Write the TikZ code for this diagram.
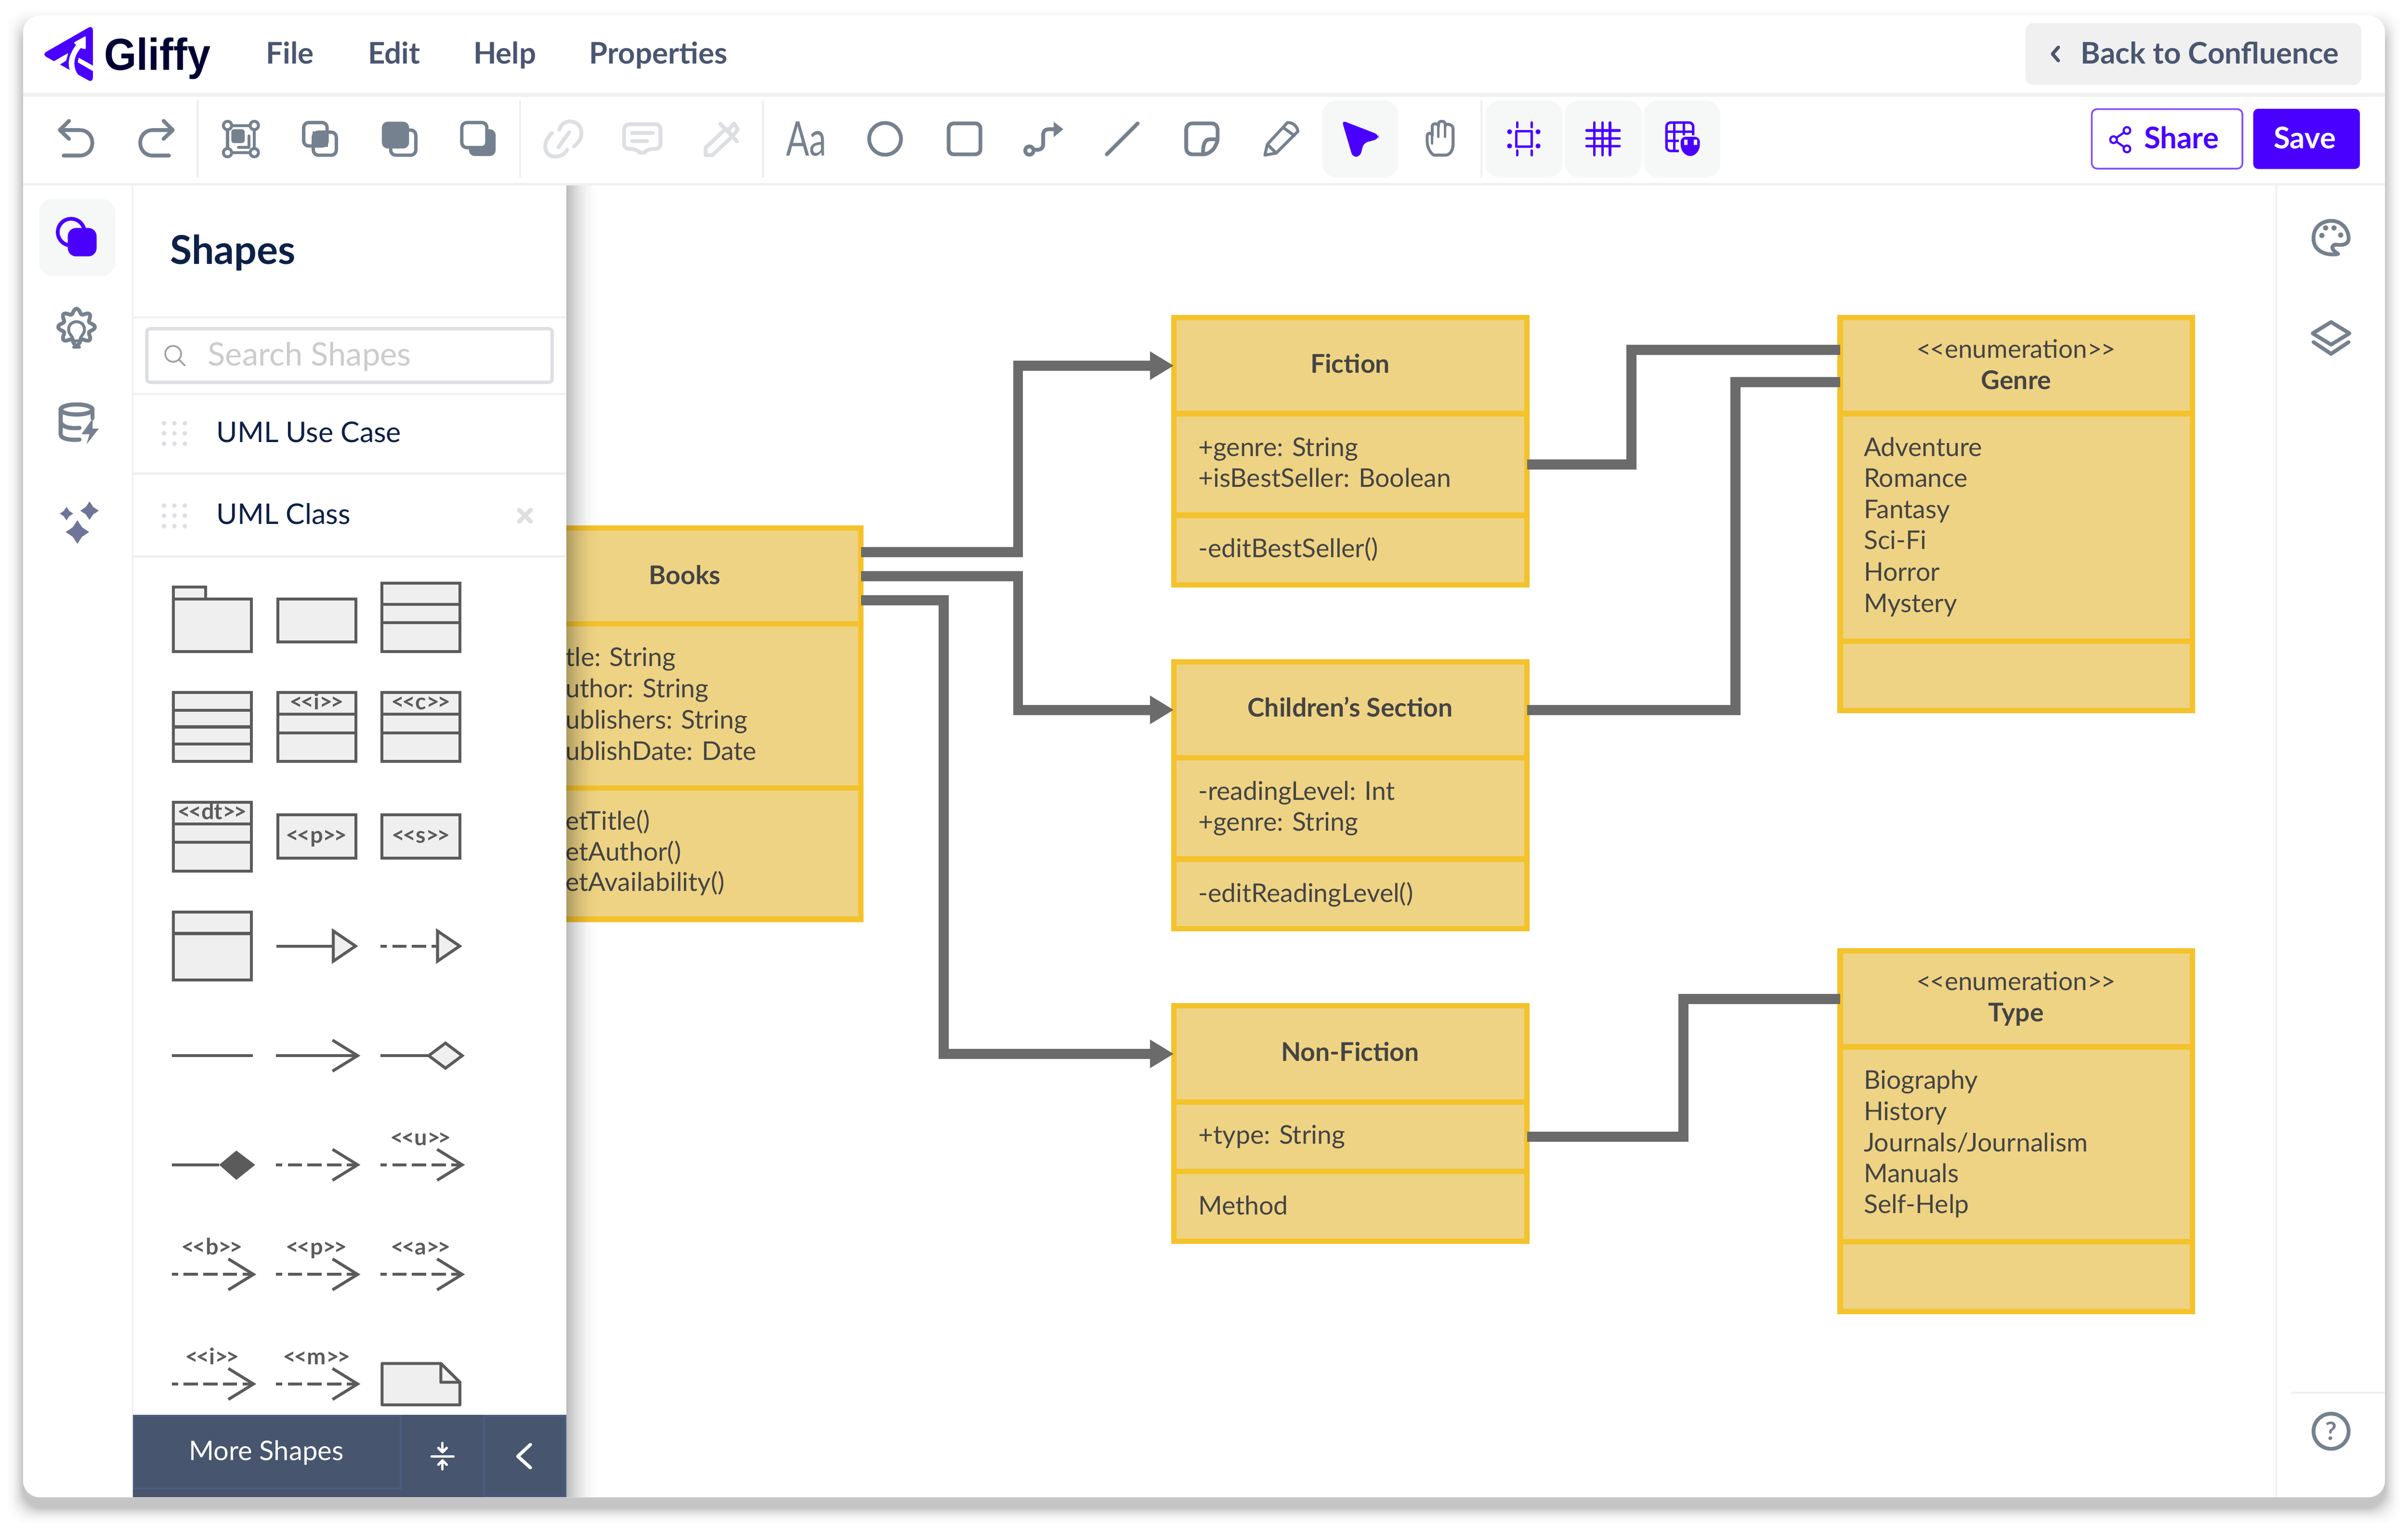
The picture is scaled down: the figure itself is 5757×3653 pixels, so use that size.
\documentclass[tikz,border=0pt]{standalone}
\usepackage{fontspec}
\setmainfont{Lato}
\newfontfamily\logofont[BoldFont={Liberation Sans Bold}]{Liberation Sans}
\usetikzlibrary{arrows.meta,calc}
\definecolor{ink}{HTML}{76818F}
\definecolor{dimink}{HTML}{DDDFE3}
\definecolor{brand}{HTML}{4A00FF}
\definecolor{navy}{HTML}{0D2048}
\definecolor{menuink}{HTML}{4A5670}
\definecolor{tile}{HTML}{F6F8F8}
\definecolor{rule}{HTML}{F0F0F0}
\definecolor{boxfill}{HTML}{EED384}
\definecolor{boxedge}{HTML}{F4C22B}
\definecolor{wirecol}{HTML}{6B6B6B}
\definecolor{palink}{HTML}{5B5B5B}
\definecolor{palfill}{HTML}{EFEFEF}
\definecolor{foot}{HTML}{47556F}
\definecolor{footline}{HTML}{4A5C80}
\definecolor{boxink}{HTML}{444444}
\definecolor{stars}{HTML}{6E7598}
\newcommand\ltlt[1]{<\kern#1<}
\newcommand\gtgt[1]{>\kern#1>}
\tikzset{
  sec/.style={draw=boxedge,fill=boxfill,line width=6.5pt,inner sep=0pt,outer sep=0pt},
  boxtxt/.style={inner sep=0pt,outer sep=0pt,anchor=base west,text=boxink,font=\fontsize{30.8pt}{36pt}\selectfont},
  boxhead/.style={inner sep=0pt,outer sep=0pt,anchor=base,text=boxink,font=\fontsize{30.8pt}{36pt}\selectfont\bfseries},
  boxster/.style={inner sep=0pt,outer sep=0pt,anchor=base,text=boxink,font=\fontsize{30.5pt}{36pt}\selectfont},
  wire/.style={draw=wirecol,line width=12pt,line join=miter},
  wirearrow/.style={wire,-{Triangle[length=28.5pt,width=32pt]}},
  uitxt/.style={inner sep=0pt,outer sep=0pt,anchor=base west},
  menutxt/.style={uitxt,text=menuink,font=\fontsize{35.6pt}{42pt}\selectfont\bfseries},
  icon/.style={draw=ink,line width=4.5pt,line cap=round,line join=round,fill=none},
  dimicon/.style={draw=dimink,line width=4.5pt,line cap=round,line join=round,fill=none},
  bicon/.style={draw=brand,line width=3pt,line cap=round,line join=round,fill=none},
  tilebox/.style={fill=tile,rounded corners=17pt},
  rulefill/.style={fill=rule},
  pal/.style={draw=palink,fill=palfill,line width=3.5pt},
  palline/.style={draw=palink,line width=3.5pt},
  paldash/.style={palline,dash pattern=on 17pt off 6.5pt,dash phase=9.5pt},
  pallab/.style={inner sep=0pt,outer sep=0pt,anchor=base,text=palink,font=\fontsize{27pt}{32pt}\selectfont\bfseries},
}
\newcommand\sect[5]{\node[sec,minimum width={(#4-#2)*0.5pt},minimum height={(#5-#3)*0.5pt}] (#1) at ({(#2+#4)/2},{(#3+#5)/2}) {};}
\newcommand\tline[4]{\node[boxtxt] (#1) at (#2,#3) {#4};}
\newcommand\palopen[3]{\draw[palline] (#1-60,#3-37) -- (#2,#3) -- (#1-60,#3+37);}
\newcommand\palrow[3]{\draw[palline] (#1,#3) -- (#2,#3);}
\newcommand\paldashed[3]{\draw[paldash] (#1,#3) -- (#2,#3);}
\newcommand\pallabel[4]{\node[pallab] (#1) at (#2,#3) {\ltlt{-.09em}#4\gtgt{-.09em}};}
\begin{document}
\begin{tikzpicture}[x=0.5pt,y=-0.5pt]
\useasboundingbox (0,0) rectangle (5757,3653);
\fill[white] (0,0) rectangle (5757,3653);
% window shadow
\foreach \e in {55,53,...,1}{
  \pgfmathsetmacro\op{0.026*(1-\e/55)^2}
  \fill[black,opacity=\op,rounded corners=24pt] (55-\e,62-\e) rectangle (5702+\e,3605+\e);
}
\fill[white,rounded corners=20pt] (55,37) rectangle (5702,3580);

% ===== diagram =====
\sect{booksHead}{1214.5}{1262.5}{2058.5}{1492}
\sect{booksAttr}{1214.5}{1492}{2058.5}{1884}
\sect{booksMeth}{1214.5}{1884}{2058.5}{2198}
\sect{fictionHead}{2806.5}{759.5}{3650.5}{989}
\sect{fictionAttr}{2806.5}{989}{3650.5}{1232}
\sect{fictionMeth}{2806.5}{1232}{3650.5}{1398.5}
\sect{childHead}{2806.5}{1582.5}{3650.5}{1812}
\sect{childAttr}{2806.5}{1812}{3650.5}{2054}
\sect{childMeth}{2806.5}{2054}{3650.5}{2220.5}
\sect{nonHead}{2806.5}{2404.5}{3650.5}{2635}
\sect{nonAttr}{2806.5}{2635}{3650.5}{2801}
\sect{nonMeth}{2806.5}{2801}{3650.5}{2967.5}
\sect{genreHead}{4399.5}{759.5}{5241.5}{989}
\sect{genreAttr}{4399.5}{989}{5241.5}{1533}
\sect{genreMeth}{4399.5}{1533}{5241.5}{1698.5}
\sect{typeHead}{4399.5}{2273.5}{5241.5}{2503}
\sect{typeAttr}{4399.5}{2503}{5241.5}{2969}
\sect{typeMeth}{4399.5}{2969}{5241.5}{3135.5}

\node[boxhead] (tBooks) at (1637,1397) {Books};
\tline{b1}{1352}{1593}{tle: String}
\tline{b2}{1352}{1668}{uthor: String}
\tline{b3}{1352}{1743}{ublishers: String}
\tline{b4}{1352}{1817}{ublishDate: Date}
\tline{b5}{1352}{1984}{etTitle()}
\tline{b6}{1352}{2058}{etAuthor()}
\tline{b7}{1352}{2131}{etAvailability()}
\node[boxhead] (tFiction) at (3228,892) {Fiction};
\tline{f1}{2865}{1091}{+genre: String}
\tline{f2}{2865}{1165}{+isBestSeller: Boolean}
\tline{f3}{2865}{1333}{-editBestSeller()}
\node[boxhead] (tChild) at (3228,1714) {Children’s Section};
\tline{c1}{2865}{1913}{-readingLevel: Int}
\tline{c2}{2865}{1987}{+genre: String}
\tline{c3}{2865}{2157}{-editReadingLevel()}
\node[boxhead] (tNon) at (3228,2537) {Non-Fiction};
\tline{n1}{2865}{2735}{+type: String}
\tline{n2}{2865}{2904}{Method}
\node[boxster] (tEnumA) at (4820,856) {\ltlt{-.05em}enumeration\gtgt{-.05em}};
\node[boxhead] (tGenre) at (4820,931) {Genre};
\tline{g1}{4456}{1091}{Adventure}
\tline{g2}{4456}{1165}{Romance}
\tline{g3}{4456}{1240}{Fantasy}
\tline{g4}{4456}{1313}{Sci-Fi}
\tline{g5}{4456}{1389}{Horror}
\tline{g6}{4456}{1464}{Mystery}
\node[boxster] (tEnumB) at (4820,2368) {\ltlt{-.05em}enumeration\gtgt{-.05em}};
\node[boxhead] (tType) at (4820,2443) {Type};
\tline{y1}{4456}{2604}{Biography}
\tline{y2}{4456}{2679}{History}
\tline{y3}{4456}{2753}{Journals/Journalism}
\tline{y4}{4456}{2827}{Manuals}
\tline{y5}{4456}{2901}{Self-Help}

% connectors
\coordinate (busA) at (2434,0);
\coordinate (busB) at (2256,0);
\coordinate (busC) at (3900,0);
\coordinate (busD) at (4149,0);
\coordinate (busE) at (4025,0);
\coordinate (booksOutA) at ($(booksHead.east)+(0,-57)$);
\coordinate (booksOutC) at ($(booksHead.east)+(0,58)$);
\coordinate (genreInA) at ($(genreHead.west)+(0,-38)$);
\coordinate (genreInB) at ($(genreHead.west)+(0,39)$);
\draw[wirearrow] (booksOutA) -| (busA |- fictionHead.west) -- (fictionHead.west);
\draw[wirearrow] (booksHead.east) -| (busA |- childHead.west) -- (childHead.west);
\draw[wirearrow] (booksOutC) -| (busB |- nonHead.west) -- (nonHead.west);
\draw[wire] (fictionAttr.east) -| (busC |- genreInA) -- (genreInA);
\draw[wire] (childHead.east) -| (busD |- genreInB) -- (genreInB);
\draw[wire] (nonAttr.east) -| (busE |- typeHead.west) -- (typeHead.west);

% ===== left panel cover & shadow =====
\fill[white] (1190,443) rectangle (1354,3580);
\foreach \k in {0,...,15}{
  \pgfmathsetmacro\op{0.26*(1-\k/16)^2}
  \fill[black,opacity=\op] ({1354+5*\k},443) rectangle ({1359+5*\k},3580);
}

% ===== chrome rules =====
\fill[rulefill] (55,222) rectangle (5702,231);
\fill[rulefill] (55,438) rectangle (5702,443);
\fill[rulefill] (315,443) rectangle (319,3580);
\fill[rulefill] (5440,443) rectangle (5444,3580);
\fill[rulefill] (5478,3328) rectangle (5702,3332);
\foreach \xx in {470,1241,1822,3539}{ \fill[rulefill] (\xx,240) rectangle (\xx+5,424); }
\foreach \yy in {756,939,1130,1328}{ \fill[rulefill] (319,\yy) rectangle (1354,\yy+5); }

% ===== logo =====
\fill[brand,rounded corners=6pt] (222,60) -- (222,198) -- (100,130) -- cycle;
\fill[white] (128,147) -- (163,127) -- (158,145) -- (142,155) -- cycle;
\fill[white] (168,171) .. controls (160,150) and (165,130) .. (183,106) -- (193,115) .. controls (180,130) and (172,150) .. (183,173) .. controls (188,182) and (198,190) .. (210,198) -- (170,198) -- cycle;
\fill[white,rounded corners=1.5pt] (176,102) -- (205,86) -- (205,118) -- (193,115) -- (183,108) -- cycle;
\fill[white] (188,138) -- (224,158) -- (224,171) -- (186,149) -- cycle;
\node[uitxt,text=black!0!blue!20!black,font=\logofont\fontsize{53.5pt}{60pt}\selectfont\bfseries,xscale=.93] (logoText) at (249,168) {Gliffy};

% ===== menu =====
\node[menutxt] (mFile) at (636,153) {File};
\node[menutxt] (mEdit) at (880,153) {Edit};
\node[menutxt] (mHelp) at (1132,153) {Help};
\node[menutxt] (mProp) at (1409,153) {Properties};
\fill[rule,rounded corners=10pt] (4842,55) rectangle (5646,203);
\draw[draw=menuink,line width=4pt,line cap=round,line join=round] (4921,113) -- (4907,129) -- (4921,145);
\node[menutxt] (mBack) at (4975,153) {Back to Confluence};

% ===== tiles =====
\fill[tilebox] (3161,240) rectangle (3343,424);
\fill[tilebox] (3551,240) rectangle (3736,424);
\fill[tilebox] (3741,240) rectangle (3925,424);
\fill[tilebox] (3930,240) rectangle (4113,424);
\fill[tilebox] (93,475) rectangle (276,660);

% undo / redo
\draw[icon] (152,372) -- (190,372) .. controls (231,372) and (231,311) .. (190,311) -- (145,311);
\draw[icon] (165,289) -- (143,311) -- (165,332);
\draw[icon] (404,372) -- (366,372) .. controls (325,372) and (325,311) .. (366,311) -- (411,311);
\draw[icon] (391,289) -- (413,311) -- (391,332);
% group
\draw[icon,line width=3.5pt] (544,300) rectangle (608,365);
\foreach \cx/\cy in {544/300,608/300,544/365,608/365}{ \filldraw[icon,fill=white,line width=3.5pt] (\cx,\cy) circle[radius=10]; }
\fill[ink,rounded corners=3pt] (553,309) rectangle (585,342);
\draw[icon,line width=3.5pt] (595,325) -- (595,352) -- (570,352);
% arrange
\draw[icon,line width=4pt,rounded corners=6pt] (726,293) rectangle (782,349);
\draw[icon,line width=4pt,rounded corners=6pt] (749,316) rectangle (804,371);
\fill[ink] (747,314) rectangle (784,351);
\filldraw[icon,line width=4pt,fill=white,rounded corners=6pt] (934,311) rectangle (994,371);
\fill[ink,rounded corners=7pt] (913,291) rectangle (978,355);
\fill[ink,rounded corners=7pt] (1121,309) rectangle (1185,373);
\filldraw[icon,line width=4pt,fill=white,rounded corners=6pt] (1104,293) rectangle (1164,353);
% disabled
\draw[dimicon] (1337,310) .. controls (1345,280) and (1392,285) .. (1390,320) .. controls (1390,332) and (1382,342) .. (1372,350);
\draw[dimicon] (1320,318) .. controls (1300,335) and (1297,365) .. (1318,373) .. controls (1335,378) and (1350,370) .. (1356,358);
\draw[dimicon] (1361,316) -- (1335,352);
\draw[dimicon,rounded corners=6pt] (1492,297) -- (1579,297) -- (1579,356) -- (1548,356) -- (1535,371) -- (1522,356) -- (1492,356) -- cycle;
\draw[dimicon] (1511,318) -- (1561,318);
\draw[dimicon] (1511,337) -- (1547,337);
\draw[dimicon] (1687,371) -- (1687,353) -- (1735,308) -- (1752,325) -- (1703,371) -- cycle;
\draw[dimicon] (1722,296) -- (1762,338);
\draw[dimicon] (1742,310) -- (1755,295) -- (1764,310) -- (1752,325);
% text / shapes
\node[inner sep=0pt,outer sep=0pt,anchor=base,text=ink,font=\fontsize{57pt}{60pt}\selectfont,xscale=.72] (iconAa) at (1928,373) {Aa};
\draw[icon] (2116,332) circle[radius=38];
\draw[icon,rounded corners=6pt] (2268,295) rectangle (2344,369);
\draw[icon] (2461,360) circle[radius=10];
\draw[icon,rounded corners=6pt] (2471,358) -- (2494,358) -- (2494,309) -- (2520,309);
\fill[ink] (2519,291) -- (2542,309) -- (2519,328) -- cycle;
\draw[icon] (2646,369) -- (2720,295);
\draw[icon,rounded corners=7pt] (2877,369) -- (2836,369) -- (2836,295) -- (2911,295) -- (2911,333);
\draw[icon] (2911,333) .. controls (2908,352) and (2895,368) .. (2877,369);
\draw[icon] (2911,333) -- (2893,333) .. controls (2880,333) and (2876,345) .. (2876,369);
\draw[icon,line width=3.5pt] (3024,371) -- (3030,345) -- (3078,293) .. controls (3090,292) and (3102,302) .. (3103,314) -- (3051,366) -- cycle;
\draw[icon,line width=3.5pt] (3068,305) -- (3094,324);
\draw[icon,line width=3.5pt] (3030,345) -- (3051,366);
% pointer
\fill[brand,rounded corners=5pt] (3208,288) -- (3296,322) -- (3296,332) -- (3260,342) -- (3252,374) -- (3234,376) -- cycle;
% hand
\draw[icon,line width=3.5pt] (3428,371) .. controls (3418,365) and (3412,350) .. (3412,338) -- (3412,325) .. controls (3412,316) and (3424,316) .. (3424,325) -- (3424,302) .. controls (3424,294) and (3439,294) .. (3439,302) -- (3439,296) .. controls (3439,288) and (3455,288) .. (3455,296) -- (3455,302) .. controls (3455,294) and (3474,296) .. (3474,308) -- (3474,345) .. controls (3474,360) and (3466,371) .. (3455,371) -- cycle;
\draw[icon,line width=3pt] (3424,325) -- (3424,343);
\draw[icon,line width=3pt] (3439,302) -- (3439,327);
\draw[icon,line width=3pt] (3455,302) -- (3455,327);
% layout icons
\draw[bicon] (3625,314) rectangle (3662,351);
\foreach \cx in {3609,3677}{\foreach \cy in {315,349}{\fill[brand] (\cx,\cy) circle[radius=6];}}
\foreach \cx in {3627,3662}{\draw[bicon] (\cx,293) -- (\cx,304); \draw[bicon] (\cx,360) -- (\cx,371);}
\foreach \cx in {3812,3831,3849}{\draw[bicon] (\cx,293) -- (\cx,371);}
\foreach \cy in {312,331,349}{\draw[bicon] (3793,\cy) -- (3872,\cy);}
\draw[bicon,rounded corners=5pt] (3984,293) rectangle (4048,361);
\draw[bicon] (3984,315) -- (4048,315);
\draw[bicon] (4003,293) -- (4003,361);
\draw[bicon] (4026,293) -- (4026,325);
\draw[bicon] (3984,337) -- (4014,337);
\fill[tile] (4014,323) rectangle (4068,376);
\fill[brand,rounded corners=6pt] (4018,327) rectangle (4064,355);
\fill[brand] (4018,345) .. controls (4018,362) and (4030,373) .. (4041,373) .. controls (4052,373) and (4064,362) .. (4064,345) -- cycle;
\fill[white] (4026,334) rectangle (4034,346);
\fill[white] (4049,334) rectangle (4057,346);
% share / save
\filldraw[draw=brand!70,fill=white,line width=2pt,rounded corners=6pt] (5001,261) rectangle (5361,403);
\fill[brand,rounded corners=6pt] (5387,260) rectangle (5642,404);
\draw[bicon,line width=2.5pt] (5085,312) -- (5053,334) -- (5085,356);
\foreach \cx/\cy in {5085/312,5053/334,5085/356}{\filldraw[bicon,line width=2.5pt,fill=white] (\cx,\cy) circle[radius=8];}
\node[uitxt,text=brand,font=\fontsize{35.6pt}{42pt}\selectfont\bfseries] (bShare) at (5126,355) {Share};
\node[uitxt,text=white,font=\fontsize{35.6pt}{42pt}\selectfont\bfseries] (bSave) at (5436,355) {Save};

% ===== left rail =====
\draw[brand,line width=4.5pt] (170,555) circle[radius=32];
\fill[brand,rounded corners=10pt] (162,545) rectangle (231,613);
\draw[ink,line width=4.5pt,line join=round] plot[smooth cycle,samples=65,domain=0:354] ({183+(38+6*cos(8*\x))*cos(\x)},{782+(38+6*cos(8*\x))*sin(\x)});
\draw[ink,line width=3.5pt,line cap=round] (175,815) .. controls (175,803) and (164,800) .. (164,788) .. controls (164,763) and (202,763) .. (202,788) .. controls (202,800) and (191,803) .. (191,815) -- cycle;
\draw[ink,line width=3.5pt,line cap=round] (176,830) -- (190,830);
\draw[ink,line width=5pt] (183,979) ellipse[x radius=38,y radius=12];
\draw[ink,line width=5pt,line cap=round] (145,979) -- (145,1038) .. controls (145,1050) and (170,1053) .. (190,1051);
\draw[ink,line width=5pt,line cap=round] (145,1010) .. controls (150,1022) and (170,1025) .. (190,1023);
\draw[ink,line width=5pt,line cap=round] (221,979) -- (221,1000);
\fill[ink] (222,1000) -- (195,1038) -- (214,1038) -- (207,1062) -- (236,1025) -- (221,1025) -- cycle;
\foreach \cx/\cy/\rr in {214/1221/22,159/1228/16,185/1272/28}{
  \fill[stars] (\cx,\cy-\rr) -- (\cx+0.4*\rr,\cy-0.4*\rr) -- (\cx+\rr,\cy) -- (\cx+0.4*\rr,\cy+0.4*\rr) -- (\cx,\cy+\rr) -- (\cx-0.4*\rr,\cy+0.4*\rr) -- (\cx-\rr,\cy) -- (\cx-0.4*\rr,\cy-0.4*\rr) -- cycle;
}

% ===== right rail =====
\draw[ink,line width=4.5pt,line cap=round] (5590,607) .. controls (5570,612) and (5530,605) .. (5531,569) .. controls (5531,540) and (5555,528) .. (5573,528) .. controls (5600,528) and (5615,550) .. (5615,570) .. controls (5615,590) and (5590,585) .. (5582,585) .. controls (5570,590) and (5578,600) .. (5590,607);
\foreach \cx/\cy in {5551/563,5560/545,5580/545,5596/562}{\fill[ink] (\cx,\cy) circle[radius=6.5];}
\draw[ink,line width=4.5pt,line join=round] (5573,770) -- (5617,797) -- (5573,824) -- (5529,797) -- cycle;
\draw[ink,line width=4.5pt,line join=round,line cap=round] (5531,818) -- (5573,846) -- (5615,818);
\draw[ink,line width=4.5pt] (5573,3422) circle[radius=42];
\node[inner sep=0pt,outer sep=0pt,anchor=center,text=ink,font=\fontsize{30pt}{36pt}\selectfont\bfseries] (helpQ) at (5573,3422) {?};

% ===== panel header =====
\node[uitxt,text=navy,font=\fontsize{47.4pt}{54pt}\selectfont\bfseries] (pShapes) at (407,631) {Shapes};
\filldraw[draw=dimink,fill=white,line width=4pt,rounded corners=4pt] (351,786) rectangle (1320,914);
\draw[draw=black!38,line width=2pt] (414,846) circle[radius=19];
\draw[draw=black!38,line width=2pt,line cap=round] (428,860) -- (442,874);
\node[uitxt,text=black!20,font=\fontsize{38.5pt}{44pt}\selectfont] (pSearch) at (497,874) {Search Shapes};
\foreach \dx in {392,417,442}{\foreach \dy in {1012,1036,1061,1209,1233,1258}{\fill[dimink] (\dx,\dy) circle[radius=5.5];}}
\node[uitxt,text=navy,font=\fontsize{34pt}{40pt}\selectfont] (pUse) at (518,1058) {UML Use Case};
\node[uitxt,text=navy,font=\fontsize{34pt}{40pt}\selectfont] (pClass) at (518,1253) {UML Class};
\draw[draw=dimink,line width=5pt,line cap=round] (1241,1219) -- (1269,1247);
\draw[draw=dimink,line width=5pt,line cap=round] (1269,1219) -- (1241,1247);

% ===== palette =====
\draw[pal] (414.5,1403.5) rectangle (492,1432.5);
\draw[pal] (414.5,1432.5) rectangle (600.5,1557.5);
\draw[pal] (664.5,1432.5) rectangle (850.5,1534.5);
\draw[pal] (913.5,1394.5) rectangle (1099.5,1557.5);
\draw[palline] (913.5,1445) -- (1099.5,1445);
\draw[palline] (913.5,1489) -- (1099.5,1489);
\draw[pal] (414.5,1655.5) rectangle (600.5,1820.5);
\foreach \yy in {1698,1738,1779}{\draw[palline] (414.5,\yy) -- (600.5,\yy);}
\foreach \xa in {664.5,913.5}{
  \draw[pal] (\xa,1655.5) rectangle (\xa+186,1820.5);
  \draw[palline] (\xa,1708) -- (\xa+186,1708);
  \draw[palline] (\xa,1752) -- (\xa+186,1752);
}
\draw[pal] (414.5,1918.5) rectangle (600.5,2082.5);
\draw[palline] (414.5,1970) -- (600.5,1970);
\draw[palline] (414.5,2014) -- (600.5,2014);
\draw[pal] (664.5,1948.5) rectangle (850.5,2051.5);
\draw[pal] (913.5,1948.5) rectangle (1099.5,2051.5);
\draw[pal] (414.5,2180.5) rectangle (600.5,2343.5);
\draw[palline] (414.5,2232) -- (600.5,2232);
\pallabel{l1}{757}{1697}{i}
\pallabel{l2}{1006}{1697}{c}
\pallabel{l3}{507}{1959}{dt}
\pallabel{l4}{757}{2016}{p}
\pallabel{l5}{1006}{2016}{s}
\pallabel{l6}{1006}{2738}{u}
\pallabel{l7}{507}{3000}{b}
\pallabel{l8}{757}{3000}{p}
\pallabel{l9}{1006}{3000}{a}
\pallabel{l10}{507}{3263}{i}
\pallabel{l11}{757}{3263}{m}
% row 4
\palrow{661}{797}{2262}
\draw[pal,line join=miter] (797,2226) -- (850,2262) -- (797,2298) -- cycle;
\paldashed{910}{1046}{2262}
\draw[pal,line join=miter] (1046,2226) -- (1099,2262) -- (1046,2298) -- cycle;
% row 5
\palrow{411}{604}{2524}
\palrow{660}{855}{2524}
\palopen{855}{855}{2524}
\palrow{910}{1025}{2524}
\draw[pal] (1025,2524) -- (1065,2494) -- (1105,2524) -- (1065,2554) -- cycle;
% row 6
\palrow{411}{524}{2785}
\fill[palink] (524,2785) -- (565,2751) -- (610,2785) -- (565,2821) -- cycle;
\paldashed{660}{855}{2785}
\palopen{855}{855}{2785}
\paldashed{910}{1105}{2785}
\palopen{1105}{1105}{2785}
% row 7 / 8
\foreach \ax/\bx in {411/606,660/855,910/1105}{
  \paldashed{\ax}{\bx}{3047}
  \palopen{\bx}{\bx}{3047}
}
\foreach \ax/\bx in {411/606,660/855}{
  \paldashed{\ax}{\bx}{3309}
  \palopen{\bx}{\bx}{3309}
}
\draw[pal,line join=round] (913.5,3260) -- (1054,3260) -- (1099.5,3305) -- (1099.5,3359) -- (913.5,3359) -- cycle;
\draw[palline,fill=palfill!80!white,line join=round] (1054,3260) -- (1054,3305) -- (1099.5,3305) -- cycle;

% ===== footer =====
\fill[foot] (318,3383) rectangle (1354,3580);
\draw[footline,line width=2pt] (320,3385) -- (958,3385) -- (958,3559) -- (320,3559) -- cycle;
\draw[footline,line width=2pt] (1157,3385) rectangle (1352,3578);
\node[uitxt,text=white,font=\fontsize{32.3pt}{38pt}\selectfont] (fMore) at (452,3491) {More Shapes};
\draw[white,line width=3pt,line cap=round] (1032,3482) -- (1084,3482);
\draw[white,line width=3pt,line cap=round] (1058,3450) -- (1058,3470);
\draw[white,line width=3pt,line cap=round,line join=round] (1048,3462) -- (1058,3472) -- (1068,3462);
\draw[white,line width=3pt,line cap=round] (1058,3492) -- (1058,3513);
\draw[white,line width=3pt,line cap=round,line join=round] (1048,3502) -- (1058,3492) -- (1068,3502);
\draw[white,line width=4pt,line cap=round,line join=round] (1268,3454) -- (1238,3482) -- (1268,3509);
\end{tikzpicture}
\end{document}
